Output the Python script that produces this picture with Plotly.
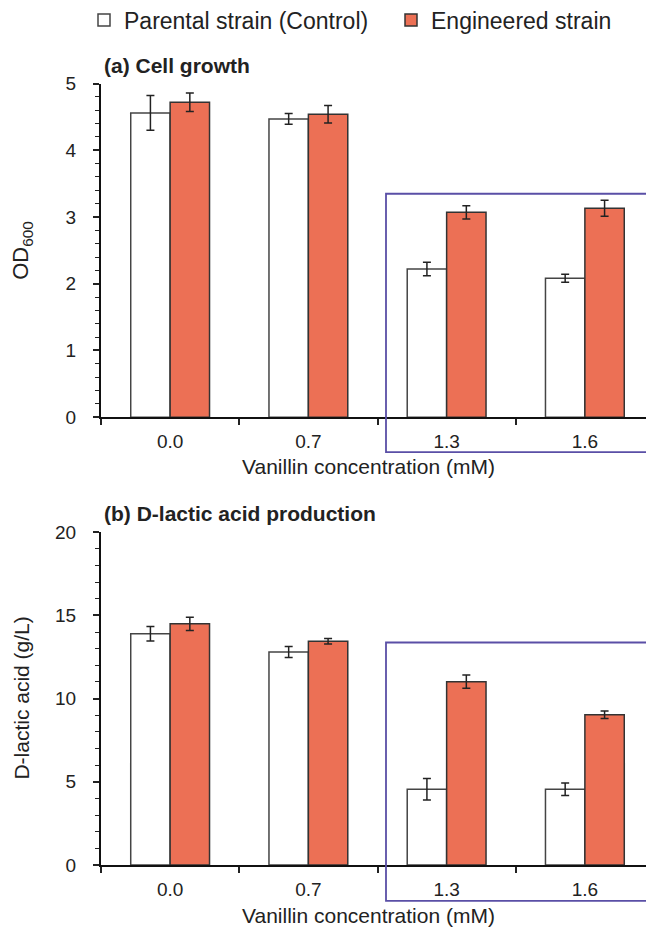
import plotly.graph_objects as go

categories = ["0.0", "0.7", "1.3", "1.6"]
series_names = ["Parental strain (Control)", "Engineered strain"]

od_control = [4.56, 4.47, 2.22, 2.08]
od_control_err = [0.26, 0.08, 0.10, 0.06]
od_engineered = [4.72, 4.54, 3.07, 3.13]
od_engineered_err = [0.14, 0.13, 0.10, 0.12]

lac_control = [13.9, 12.8, 4.55, 4.55]
lac_control_err = [0.44, 0.33, 0.65, 0.37]
lac_engineered = [14.5, 13.45, 11.02, 9.03]
lac_engineered_err = [0.40, 0.16, 0.40, 0.23]

OFF = 8  # page body margin
W, H = 654 - OFF, 928 - OFF
FONT = "Liberation Sans, Arial, sans-serif"
ENG = "#EC7055"
BOX = "#5A4FA6"

# paper area on screen (legend reserves space at top)
PT, PH = 43.0, 885.0

def py(px):
    return 1 - (px - PT) / PH

def pxx(px):
    return (px - OFF) / W

def cy(px):  # container fraction
    return 1 - (px - OFF) / H

fig = go.Figure()

def add_bars(xa, ya, ctrl, ctrl_e, eng, eng_e, legend):
    fig.add_trace(go.Bar(
        x=categories, y=ctrl, name=series_names[0], xaxis=xa, yaxis=ya,
        marker=dict(color="white", line=dict(color="#444444", width=1.5)),
        error_y=dict(type="data", array=ctrl_e, visible=True, color="#222222", thickness=1.5, width=4),
        showlegend=legend, legendgroup="c"))
    fig.add_trace(go.Bar(
        x=categories, y=eng, name=series_names[1], xaxis=xa, yaxis=ya,
        marker=dict(color=ENG, line=dict(color="#333333", width=1.5)),
        error_y=dict(type="data", array=eng_e, visible=True, color="#222222", thickness=1.5, width=4),
        showlegend=legend, legendgroup="e"))

add_bars("x", "y", od_control, od_control_err, od_engineered, od_engineered_err, True)
add_bars("x2", "y2", lac_control, lac_control_err, lac_engineered, lac_engineered_err, False)

xdom = [pxx(101), 1.0]
xcommon = dict(type="category", tickson="boundaries", ticks="outside", ticklen=6, tickwidth=1.5,
               tickcolor="#222", showline=True, linecolor="#111", linewidth=2, showgrid=False,
               tickfont=dict(family=FONT, size=19, color="#222"), ticklabelstandoff=6,
               domain=xdom, zeroline=False, automargin=False)
ycommon = dict(ticks="outside", ticklen=6, tickwidth=1.5, tickcolor="#222", showline=True,
               linecolor="#111", linewidth=2, showgrid=False, zeroline=False, automargin=False,
               tickfont=dict(family=FONT, size=19, color="#222"), ticklabelstandoff=13)

fig.update_layout(
    template="none",
    width=W, height=H, margin=dict(l=0, r=0, t=0, b=0, pad=0), autosize=False,
    paper_bgcolor="white", plot_bgcolor="white",
    barmode="group", bargap=0.43, bargroupgap=0,
    font=dict(family=FONT, color="#222"),
    xaxis=dict(**xcommon, anchor="y"),
    yaxis=dict(**ycommon, domain=[py(418), py(85)], range=[0, 5], dtick=1, anchor="x",
               minor=dict(dtick=0.2, ticks="outside", ticklen=4, tickwidth=1.2, tickcolor="#222")),
    xaxis2=dict(**xcommon, anchor="y2"),
    yaxis2=dict(**ycommon, domain=[py(865), py(533)], range=[0, 20], dtick=5, anchor="x2",
                minor=dict(dtick=1, ticks="outside", ticklen=4, tickwidth=1.2, tickcolor="#222")),
    legend=dict(orientation="h", xref="container", yref="container",
                x=pxx(84), xanchor="left", y=cy(20), yanchor="middle",
                font=dict(family=FONT, size=23, color="#222"), itemwidth=30, entrywidth=262,
                bgcolor="rgba(0,0,0,0)", borderwidth=0),
)

anns = [
    dict(text="<b>(a) Cell growth</b>", x=pxx(102), y=py(67), xanchor="left", yanchor="middle", font_size=21),
    dict(text="<b>(b) D-lactic acid production</b>", x=pxx(102), y=py(514), xanchor="left", yanchor="middle", font_size=21),
    dict(text="Vanillin concentration (mM)", x=pxx(368), y=py(467), xanchor="center", yanchor="middle", font_size=21),
    dict(text="Vanillin concentration (mM)", x=pxx(368), y=py(916), xanchor="center", yanchor="middle", font_size=21),
    dict(text="OD<sub>600</sub>", x=pxx(22), y=py(252), xanchor="center", yanchor="middle", textangle=-90, font_size=22),
    dict(text="D-lactic acid (g/L)", x=pxx(22), y=py(699), xanchor="center", yanchor="middle", textangle=-90, font_size=21),
]
for a in anns:
    fs = a.pop("font_size")
    fig.add_annotation(xref="paper", yref="paper", showarrow=False,
                       font=dict(family=FONT, size=fs, color="#222"), **a)

for (top, bot) in [(195, 453), (643, 901)]:
    fig.add_shape(type="rect", xref="paper", yref="paper", x0=pxx(386), x1=pxx(647),
                  y0=py(bot), y1=py(top), line=dict(color=BOX, width=1.8), fillcolor="rgba(0,0,0,0)")

fig.write_html("out.html")
